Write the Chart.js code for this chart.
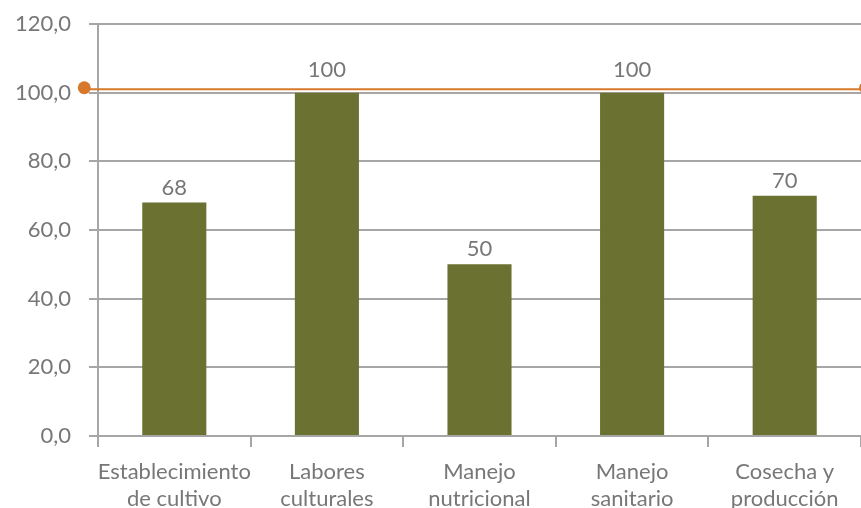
<!DOCTYPE html>
<html>
<head>
<meta charset="utf-8">
<script src="https://cdn.jsdelivr.net/npm/chart.js@4.4.1/dist/chart.umd.min.js"></script>
<style>
  html, body { margin: 0; padding: 0; background: #fff; }
  #wrap { width: 861px; height: 508px; }
</style>
</head>
<body>
<div id="wrap"><canvas id="grafica"></canvas></div>
<script>
'use strict'

// categorias y porcentaje de cumplimiento
var categorias = [
    ['Establecimiento', 'de cultivo'],
    ['Labores', 'culturales'],
    ['Manejo', 'nutricional'],
    ['Manejo', 'sanitario'],
    ['Cosecha y', 'producción']
];
var valores = [68, 100, 50, 100, 70];

// linea de referencia (meta)
var metaX = [-0.09, 5.03];
var metaY = [101, 101];

var gris = '#a6a6a6';
var texto = '#777777';
var naranja = '#d7782a';
var fuente = "Lato, 'Open Sans', sans-serif";

// etiquetas de valor sobre cada barra y puntos de la meta
var etiquetas = {
    id: 'etiquetas',
    afterDatasetsDraw: function (chart) {
        var ctx = chart.ctx;
        var barras = chart.getDatasetMeta(0);
        var meta = chart.getDatasetMeta(1);
        var lineaY = meta.data[0].y;
        ctx.save();
        ctx.font = '22px ' + fuente;
        ctx.fillStyle = texto;
        ctx.textAlign = 'center';
        ctx.textBaseline = 'alphabetic';
        barras.data.forEach(function (bar, i) {
            var base = bar.y - 8;
            // si el texto toca la linea de la meta, se sube por encima
            if (base + 6 > lineaY && base - 18 < lineaY) base = lineaY - 12;
            ctx.fillText(String(valores[i]), bar.x, base);
        });
        // los extremos quedan fuera del area, se pintan aqui
        ctx.fillStyle = naranja;
        meta.data.forEach(function (p) {
            ctx.beginPath();
            ctx.arc(p.x, p.y - 1.5, 6.5, 0, Math.PI * 2);
            ctx.fill();
        });
        ctx.restore();
    }
};

var ctx = document.getElementById('grafica').getContext('2d');
var grafica = new Chart(ctx, {
    type: 'bar',
    data: {
        labels: categorias,
        datasets: [{
            data: valores,
            backgroundColor: '#6b7131',
            barPercentage: 0.84,
            categoryPercentage: 0.5,
            grouped: false,
            order: 2
        }, {
            type: 'line',
            xAxisID: 'x2',
            data: metaX.map(function (x, i) { return { x: x, y: metaY[i] }; }),
            borderColor: naranja,
            backgroundColor: naranja,
            borderWidth: 2,
            pointRadius: 0,
            pointHoverRadius: 0,
            clip: false,
            order: 1
        }]
    },
    options: {
        responsive: true,
        maintainAspectRatio: false,
        animation: false,
        layout: { padding: { top: 24, right: 0, left: 0, bottom: 0 } },
        plugins: {
            legend: { display: false },
            tooltip: { enabled: false }
        },
        scales: {
            x: {
                grid: {
                    offset: true,
                    drawOnChartArea: false,
                    color: gris,
                    lineWidth: 2,
                    tickLength: 11
                },
                border: { color: gris, width: 2 },
                ticks: {
                    color: texto,
                    font: { family: fuente, size: 22, lineHeight: 1.23 },
                    maxRotation: 0,
                    autoSkip: false,
                    padding: 11
                },
                afterFit: function (scale) {
                    scale.height = 72;
                    scale.paddingLeft = 0;
                    scale.paddingRight = 0;
                }
            },
            x2: {
                type: 'linear',
                display: false,
                offset: false,
                min: 0,
                max: 5
            },
            y: {
                min: 0,
                max: 120,
                ticks: {
                    stepSize: 20,
                    color: texto,
                    font: { family: fuente, size: 22 },
                    padding: 18,
                    callback: function (v) { return v.toFixed(1).replace('.', ','); }
                },
                grid: { color: gris, lineWidth: 2, tickLength: 9 },
                border: { color: gris, width: 2 },
                afterFit: function (scale) {
                    scale.width = 98;
                    scale.paddingTop = 0;
                    scale.paddingBottom = 0;
                }
            }
        }
    },
    plugins: [etiquetas]
});
</script>
</body>
</html>
